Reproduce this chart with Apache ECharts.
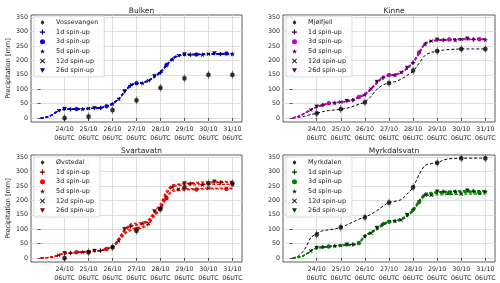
<!DOCTYPE html>
<html><head><meta charset="utf-8">
<script src="https://cdn.jsdelivr.net/npm/echarts@6/dist/echarts.min.js"></script>
<style>html,body{margin:0;padding:0;background:#fff}#c{width:500px;height:283px}</style>
</head><body><div id="c"></div><script>
// x positions: hours since 23/10 06UTC (6-hourly)
const hours = [0,6,12,18,24,30,36,42,48,54,60,66,72,78,84,90,96,102,108,114,120,126,132,138,144,150,156,162,168,174,180,186,192];
const tickHours = [24,48,72,96,120,144,168,192];
const tickLabels = ['24/10\n06UTC','25/10\n06UTC','26/10\n06UTC','27/10\n06UTC','28/10\n06UTC','29/10\n06UTC','30/10\n06UTC','31/10\n06UTC'];
const yTicks = [0,50,100,150,200,250,300,350];
const panelTitles = ['Bulken','Kinne','Svartavatn','Myrkdalsvatn'];
const stationNames = ['Vossevangen','Mjølfjell','Øvstedal','Myrkdalen'];
const spinups = ['1d spin-up','3d spin-up','5d spin-up','12d spin-up','26d spin-up'];

// Bulken
const bulken1d  = [0,3,12,26,30,30,31,32,33,33,35,40,50,65,90,113,120,122,130,143,158,182,205,217,219,220,220,221,222,222,222,223,223];
const bulken3d  = [0,3,12,26,30,31,31,32,33,34,36,41,51,66,91,114,121,123,131,144,160,184,207,218,220,221,221,222,223,223,223,224,224];
const bulken5d  = [0,3,11,25,29,30,31,31,32,33,35,40,49,64,89,112,119,121,129,142,157,181,204,216,218,219,220,220,221,221,221,222,222];
const bulken12d = [0,3,12,26,30,31,31,32,33,33,35,40,50,65,90,113,120,122,130,143,159,183,206,217,219,220,221,221,222,222,223,223,223];
const bulken26d = [0,3,12,27,31,31,32,33,34,34,36,41,51,67,92,115,121,123,131,145,161,185,208,219,221,222,222,223,224,224,224,225,225];
const bulkenObs = [0,5,28,62,105,138,150,150];

// Kinne
const kinne1d  = [0,6,16,28,38,45,50,53,55,58,62,72,82,100,122,140,148,150,158,172,192,225,258,267,270,271,272,272,273,273,273,273,273];
const kinne3d  = [0,6,17,29,39,46,51,54,56,59,63,73,83,102,124,142,149,151,159,173,194,228,260,268,271,272,273,274,274,274,274,274,274];
const kinne5d  = [0,6,16,28,37,44,49,52,54,57,61,71,81,99,121,139,147,149,157,171,191,224,257,266,269,270,271,271,272,272,272,272,272];
const kinne12d = [0,6,16,28,38,45,50,53,55,58,62,72,82,101,123,141,148,150,158,172,193,226,259,267,270,271,272,273,273,273,273,273,273];
const kinne26d = [0,7,17,29,39,46,51,54,56,59,64,74,84,103,125,143,150,152,160,174,195,229,261,269,272,273,274,275,275,275,275,275,275];
const kinneObsLine = [0,2,6,12,16,22,26,28,30,34,40,48,55,75,100,115,122,126,135,148,163,190,218,228,232,236,238,239,240,240,240,240,240];
const kinneObs = [16,31,55,122,165,233,240,240];

// Svartavatn
const svart1d  = [0,1,4,10,15,17,19,21,22,23,26,32,38,62,92,110,114,118,127,152,174,222,250,255,257,258,259,260,261,261,262,262,262];
const svart3d  = [0,1,4,10,16,18,20,21,22,23,25,31,37,56,82,95,100,104,115,146,168,208,230,234,236,237,238,239,240,240,240,240,240];
const svart5d  = [0,1,4,10,15,17,19,21,23,24,26,32,39,64,95,112,116,120,130,157,180,224,247,251,253,254,254,255,256,256,256,256,256];
const svart12d = [0,1,4,10,15,17,19,21,22,23,25,31,38,59,86,101,105,109,120,150,172,214,235,239,240,241,242,242,243,243,243,243,243];
const svart26d = [0,1,4,10,16,18,20,22,23,24,27,33,40,68,100,118,121,124,134,162,188,233,254,257,259,261,263,264,265,265,266,266,266];
const svartObs = [0,20,37,95,170,245,260,260];

// Myrkdalsvatn
const myrk1d  = [0,3,10,25,35,38,41,43,45,45,47,53,78,90,103,118,128,130,136,148,168,198,222,226,228,230,231,232,232,232,232,232,232];
const myrk3d  = [0,3,10,25,34,37,40,42,44,44,46,52,76,88,100,115,126,128,134,146,165,195,218,222,224,225,226,226,227,227,227,227,227];
const myrk5d  = [0,3,10,24,34,37,40,42,44,44,46,52,76,89,101,116,127,129,135,147,166,197,220,224,227,229,230,231,231,231,231,231,231];
const myrk12d = [0,3,9,24,33,36,39,41,43,43,45,50,74,86,98,113,124,126,132,143,162,192,214,218,219,220,221,221,222,222,222,222,222];
const myrk26d = [0,3,10,25,35,38,41,43,45,46,48,54,79,91,104,119,129,131,137,149,169,200,224,228,230,232,233,233,234,234,234,234,234];
const myrkObsLine = [0,8,30,70,85,95,98,101,107,115,125,135,142,152,165,180,193,197,203,222,246,290,322,328,331,340,345,346,347,347,347,347,347];
const myrkObs = [82,107,142,193,246,331,347,347];

const panels = [
  {runs:[bulken1d,bulken3d,bulken5d,bulken12d,bulken26d], obs:bulkenObs, obsLine:null, color:'#0000ff', dark:'#00007a'},
  {runs:[kinne1d,kinne3d,kinne5d,kinne12d,kinne26d], obs:kinneObs, obsLine:kinneObsLine, color:'#c800c8', dark:'#5a005a'},
  {runs:[svart1d,svart3d,svart5d,svart12d,svart26d], obs:svartObs, obsLine:null, color:'#ff0000', dark:'#7a0000'},
  {runs:[myrk1d,myrk3d,myrk5d,myrk12d,myrk26d], obs:myrkObs, obsLine:myrkObsLine, color:'#008000', dark:'#003a00'}
];

const gridPos = [
  {left:31, top:15, width:211, height:107},
  {left:283, top:15, width:212, height:107},
  {left:31, top:155, width:211, height:107},
  {left:283, top:155, width:212, height:107}
];

const FONT = 'DejaVu Sans';
// marker with error bar: circle plus bar segments outside the circle (no overlap)
const obsPath = 'path://M2.2 0H2.8V1.6H2.2Z M2.2 6.4H2.8V8H2.2Z M0 4A2.5 2.5 0 0 1 5 4A2.5 2.5 0 0 1 0 4Z';
const obsLegPath = 'path://M4.4 0H5.6V1.6H4.4Z M4.4 8.4H5.6V10H4.4Z M1.5 5A3.5 3.5 0 0 1 8.5 5A3.5 3.5 0 0 1 1.5 5Z M0 4.99H10V5.01H0Z';
const plusPath = 'path://M3.8 0H6.2V3.8H10V6.2H6.2V10H3.8V6.2H0V3.8H3.8Z';
const crossPath = 'path://M1.2 0L5 3.8L8.8 0L10 1.2L6.2 5L10 8.8L8.8 10L5 6.2L1.2 10L0 8.8L3.8 5L0 1.2Z';
const starPath = 'path://M5 0L6.2 3.6H10L7 5.9L8.1 9.5L5 7.3L1.9 9.5L3 5.9L0 3.6H3.8Z';
const triPath = 'path://M0 0H10L5 9Z';
const markerSyms = [plusPath,'circle',starPath,crossPath,triPath];
const markerSizes = [4,4,4.2,3.4,4];

const grids = [], xAxes = [], yAxes = [], series = [], legends = [], titles = [];
panels.forEach((p, pi) => {
  const g = gridPos[pi];
  const mColors = [p.dark, p.color, p.dark, '#000', p.dark];
  grids.push(Object.assign({show:true, borderColor:'#333', borderWidth:0.8, backgroundColor:'transparent'}, g));
  xAxes.push({
    type:'value', gridIndex:pi, min:-9.6, max:201.6,
    axisLine:{show:false},
    axisTick:{show:true, customValues:tickHours, length:3, lineStyle:{color:'#333', width:0.8}},
    axisLabel:{customValues:tickHours, fontSize:6.3, lineHeight:8.6, color:'#222', fontFamily:FONT, margin:3,
      formatter:(v)=>{const i=tickHours.indexOf(v); return i>=0?tickLabels[i]:'';}},
    splitLine:{show:true, lineStyle:{color:'#d6d6d6', width:0.8}}
  });
  yAxes.push({
    type:'value', gridIndex:pi, min:-14, max:358,
    name: pi % 2 === 0 ? 'Precipitation [mm]' : '',
    nameLocation:'middle', nameGap:19,
    nameTextStyle:{fontSize:6.5, color:'#222', fontFamily:FONT},
    axisLine:{show:false},
    axisTick:{show:true, customValues:yTicks, length:3, lineStyle:{color:'#333', width:0.8}},
    axisLabel:{customValues:yTicks, fontSize:6.3, color:'#222', fontFamily:FONT, margin:3},
    splitLine:{show:true, lineStyle:{color:'#d6d6d6', width:0.8}}
  });
  titles.push({text:panelTitles[pi], left:g.left + g.width/2, top:g.top - 13, textAlign:'center',
    textStyle:{fontSize:7.5, fontWeight:'normal', color:'#222', fontFamily:FONT}});

  const prefix = panelTitles[pi] + '|';
  if (p.obsLine) {
    series.push({type:'line', name:prefix+'obsline', xAxisIndex:pi, yAxisIndex:pi,
      data: hours.map((h,i)=>[h,p.obsLine[i]]), smooth:0.3, showSymbol:false,
      lineStyle:{color:'#000', width:1, type:[3,2]}, z:2, silent:true});
  }
  p.runs.forEach((run, k) => {
    series.push({
      type:'line', name:prefix+spinups[k], xAxisIndex:pi, yAxisIndex:pi,
      data: hours.map((h,i)=>[h,run[i]]), smooth:0.3, showSymbol:true,
      symbol:(v, params) => (params.dataIndex >= 3 && params.dataIndex % 5 === k) ? markerSyms[k] : 'none',
      symbolSize: markerSizes[k],
      lineStyle:{color:p.color, width:1.2, type:[3,1.8]},
      itemStyle:{color: mColors[k], borderColor:'#000', borderWidth:0.3},
      z:3, silent:true
    });
  });
  series.push({type:'scatter', name:prefix+stationNames[pi], xAxisIndex:pi, yAxisIndex:pi,
    data: tickHours.map((h,i)=>[h,p.obs[i]]), symbol:obsPath, symbolSize:[4.6,8],
    itemStyle:{color:'#000'}, z:5, silent:true});

  legends.push({
    left:g.left + 3, top:g.top + 1, orient:'vertical', selectedMode:false,
    itemWidth:5, itemHeight:5, itemGap:2.6, padding:[3,6,3,6],
    backgroundColor:'rgba(255,255,255,0.85)', borderColor:'#d0d0d0', borderWidth:0.8, borderRadius:2,
    textStyle:{fontSize:6.4, color:'#222', fontFamily:FONT, lineHeight:7},
    formatter:(n)=>'   ' + n.split('|')[1],
    data:[{name:prefix+stationNames[pi], icon:obsLegPath, itemStyle:{color:'#000', borderWidth:0}}].concat(
      spinups.map((s,k)=>({name:prefix+s, icon: markerSyms[k], itemStyle:{color:mColors[k], borderWidth:0}})))
  });
});

const chart = echarts.init(document.getElementById('c'), null, {renderer:'canvas'});
chart.setOption({
  animation:false,
  title:titles, grid:grids, xAxis:xAxes, yAxis:yAxes, legend:legends, series:series
});
</script></body></html>
